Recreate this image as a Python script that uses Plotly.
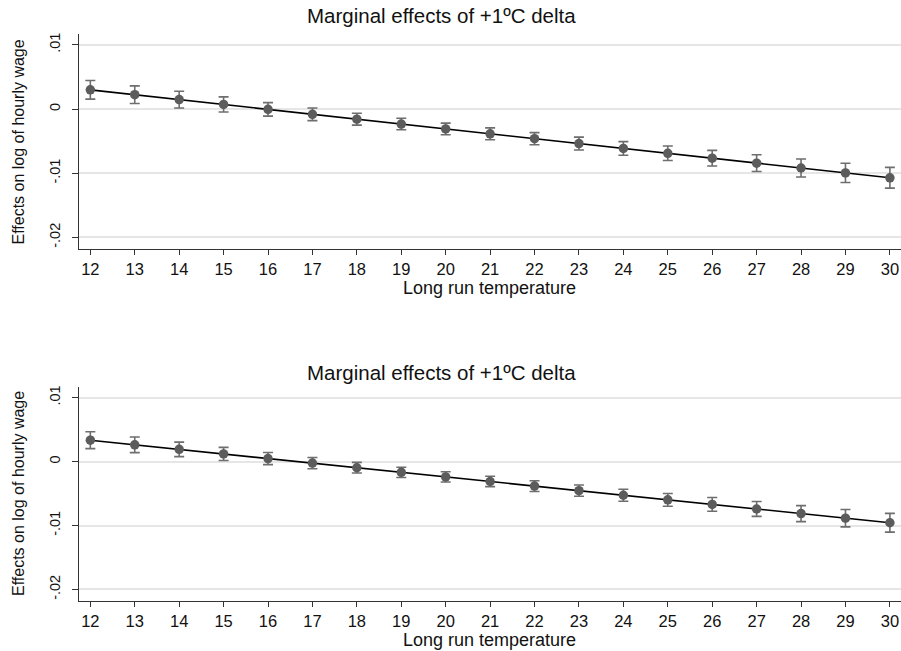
import plotly.graph_objects as go
from plotly.subplots import make_subplots

temps = [12, 13, 14, 15, 16, 17, 18, 19, 20, 21, 22, 23, 24, 25, 26, 27, 28, 29, 30]

top_effect = [0.00300, 0.00224, 0.00148, 0.00072, -0.00004, -0.00081, -0.00157, -0.00233, -0.00309,
              -0.00385, -0.00461, -0.00537, -0.00613, -0.00689, -0.00765, -0.00842, -0.00918, -0.00994, -0.01070]
top_ci = [0.00145, 0.00138, 0.00130, 0.00118, 0.00105, 0.00098, 0.00093, 0.00090, 0.00090,
          0.00092, 0.00095, 0.00100, 0.00106, 0.00113, 0.00122, 0.00131, 0.00140, 0.00150, 0.00162]

bottom_effect = [0.00333, 0.00261, 0.00190, 0.00118, 0.00046, -0.00025, -0.00097, -0.00169, -0.00240,
                 -0.00312, -0.00384, -0.00455, -0.00527, -0.00599, -0.00670, -0.00742, -0.00814, -0.00886, -0.00957]
bottom_ci = [0.00132, 0.00122, 0.00113, 0.00103, 0.00095, 0.00088, 0.00083, 0.00080, 0.00080,
             0.00081, 0.00084, 0.00088, 0.00093, 0.00100, 0.00108, 0.00116, 0.00125, 0.00135, 0.00146]

ytick_vals = [0.01, 0.0, -0.01, -0.02]
ytick_text = [".01", "0", "-.01", "-.02"]

title_text = "Marginal effects of +1ºC delta"
xtitle = "Long run temperature"
ytitle = "Effects on log of hourly wage"

FONT = "Liberation Sans, Arial, sans-serif"
W, H = 901, 651
ML, MR, MT, MB = 79, 0, 34, 50

fig = make_subplots(rows=2, cols=1, vertical_spacing=0.01)
fig.update_layout(
    yaxis=dict(domain=[0.6208, 1.0]),
    yaxis2=dict(domain=[0.0, 0.378]),
)

panels = [(top_effect, top_ci), (bottom_effect, bottom_ci)]
for i, (eff, ci) in enumerate(panels, start=1):
    fig.add_trace(go.Scatter(x=temps, y=eff, mode="lines",
                             line=dict(color="black", width=1.6),
                             showlegend=False, hoverinfo="skip"), row=i, col=1)
    fig.add_trace(go.Scatter(x=temps, y=eff, mode="markers",
                             marker=dict(color="#5c5c5c", size=9.5, line=dict(width=0)),
                             error_y=dict(type="data", array=ci, color="#6e6e6e",
                                          thickness=1.6, width=5),
                             showlegend=False), row=i, col=1)
    xref = "x" if i == 1 else "x2"
    yref = "y" if i == 1 else "y2"
    fig.add_shape(type="line", xref=f"{xref} domain", yref=yref, x0=0, x1=1, y0=0, y1=0,
                  line=dict(color="#8a8a8a", width=1.2, dash="dot"), layer="below")

axis_common_x = dict(range=[11.745, 30.25], tickvals=temps, ticks="outside", ticklen=5,
                     tickwidth=1, tickcolor="#333", showline=True, linecolor="#333", linewidth=1.2,
                     showgrid=False, zeroline=False, tickfont=dict(size=16.5, color="#111", family=FONT))
axis_common_y = dict(range=[-0.0218, 0.0117], tickvals=ytick_vals, ticktext=ytick_text,
                     tickangle=-90, ticks="outside", ticklen=6, tickwidth=1, tickcolor="#333",
                     showline=True, linecolor="#333", linewidth=1.2, showgrid=True,
                     gridcolor="#e6e6e6", gridwidth=1.5, zeroline=False, ticklabelstandoff=6,
                     tickfont=dict(size=14.5, color="#111", family=FONT))
fig.update_xaxes(**axis_common_x)
fig.update_yaxes(**axis_common_y)

plot_h = H - MT - MB
plot_w = W - ML - MR

def py(pix):
    return (H - MB - pix) / plot_h

def px(pix):
    return (pix - ML) / plot_w

annos = []
for tpix, xtpix, ycenter in [(15.5, 288, 142.5), (372.5, 640, 494)]:
    annos.append(dict(text=title_text, x=px(441), y=py(tpix), xref="paper", yref="paper",
                      showarrow=False, xanchor="center", yanchor="middle",
                      font=dict(size=20.5, color="#111", family=FONT)))
    annos.append(dict(text=xtitle, x=px(489), y=py(xtpix), xref="paper", yref="paper",
                      showarrow=False, xanchor="center", yanchor="middle",
                      font=dict(size=18, color="#111", family=FONT)))
    annos.append(dict(text=ytitle, x=px(18), y=py(ycenter), xref="paper", yref="paper",
                      showarrow=False, xanchor="center", yanchor="middle", textangle=-90,
                      font=dict(size=16, color="#111", family=FONT)))

fig.update_layout(width=W, height=H, margin=dict(l=ML, r=MR, t=MT, b=MB),
                  plot_bgcolor="white", paper_bgcolor="white", annotations=annos,
                  font=dict(family=FONT))

fig.write_html("out.html", config={"displayModeBar": False},
               post_script="document.body.style.margin='0';document.body.style.overflow='hidden';")
